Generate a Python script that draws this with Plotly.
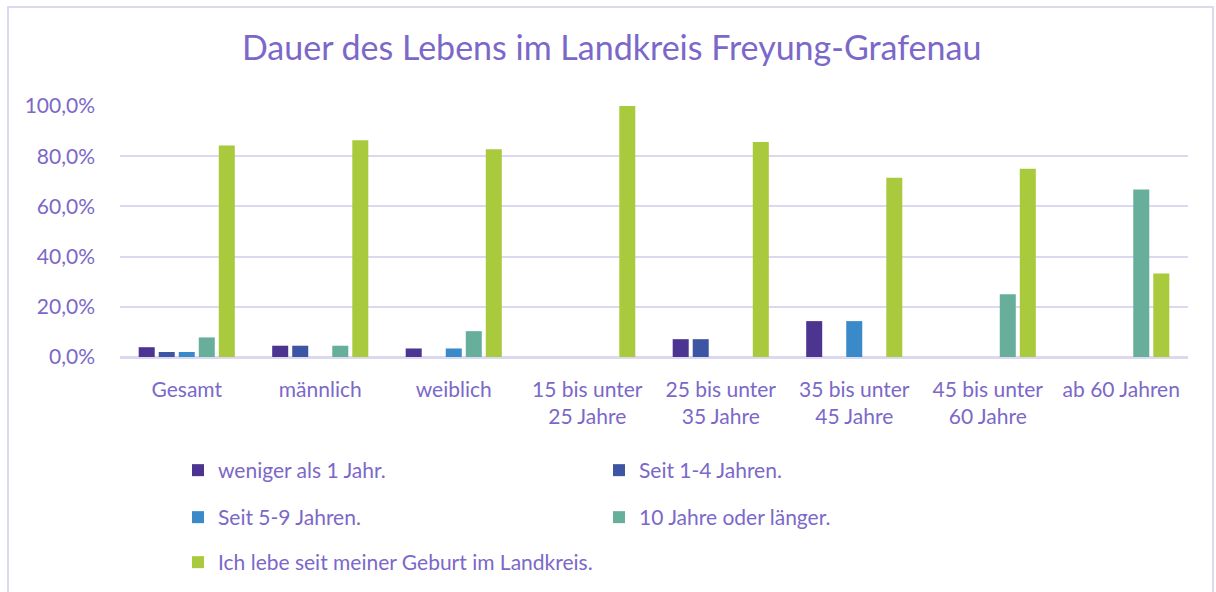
import plotly.graph_objects as go

categories = ["Gesamt", "männlich", "weiblich", "15 bis unter<br>25 Jahre",
              "25 bis unter<br>35 Jahre", "35 bis unter<br>45 Jahre",
              "45 bis unter<br>60 Jahre", "ab 60 Jahren"]

series_names = ["weniger als 1 Jahr.", "Seit 1-4 Jahren.", "Seit 5-9 Jahren.",
                "10 Jahre oder länger.", "Ich lebe seit meiner Geburt im Landkreis."]

weniger_1 = [0.039, 0.045, 0.034, 0.0, 0.071, 0.143, 0.0, 0.0]
seit_1_4 = [0.020, 0.045, 0.0, 0.0, 0.071, 0.0, 0.0, 0.0]
seit_5_9 = [0.020, 0.0, 0.034, 0.0, 0.0, 0.143, 0.0, 0.0]
zehn_plus = [0.078, 0.045, 0.103, 0.0, 0.0, 0.0, 0.25, 0.667]
geburt = [0.843, 0.864, 0.828, 1.0, 0.857, 0.714, 0.75, 0.333]

colors = ["#4B3590", "#3D56A3", "#3A8AC9", "#67AF9A", "#AACA3E"]
values = [weniger_1, seit_1_4, seit_5_9, zehn_plus, geburt]
legend_ids = ["legend", "legend", "legend2", "legend2", "legend3"]

TXT = "#7B68C8"
GRID = "#DCD8F0"
FONT = "Lato"
FS = 21

W, H = 1216, 592
L, R, T, B = 120, 28, 106, 235
pw, ph = W - L - R, H - T - B

fig = go.Figure()
for name, vals, col, lg in zip(series_names, values, colors, legend_ids):
    fig.add_trace(go.Bar(x=categories, y=vals, name=name, marker_color=col,
                         marker_line_width=0, legend=lg))

def px_x(x):
    return (x - L) / pw

def px_y(y):
    return (H - B - y) / ph

legend_common = dict(orientation="h", xanchor="left", yanchor="top",
                     font=dict(family=FONT, size=FS, color=TXT),
                     entrywidth=376, entrywidthmode="pixels",
                     bgcolor="rgba(0,0,0,0)", borderwidth=0, itemclick=False)

fig.update_layout(
    width=W, height=H,
    margin=dict(l=L, r=R, t=T, b=B, autoexpand=False),
    paper_bgcolor="white", plot_bgcolor="white",
    separators=", ",
    barmode="group", bargap=0.25, bargroupgap=0.2,
    title=dict(text="Dauer des Lebens im Landkreis Freyung-Grafenau",
               x=0.503, xref="container", xanchor="center", y=1 - 48 / H, yanchor="middle",
               font=dict(family=FONT, size=34, color=TXT)),
    font=dict(family=FONT, color=TXT),
    legend=dict(x=px_x(178), y=px_y(450), **legend_common),
    legend2=dict(x=px_x(178), y=px_y(497), **legend_common),
    legend3=dict(x=px_x(178), y=px_y(542), **legend_common),
    xaxis=dict(showgrid=False, showline=False, ticks="",
               tickfont=dict(family=FONT, size=FS, color=TXT),
               ticklabelstandoff=18),
    yaxis=dict(range=[0, 1.0], dtick=0.2, tickformat=".1%",
               showgrid=True, gridcolor=GRID, gridwidth=1.5,
               zeroline=True, zerolinecolor=GRID, zerolinewidth=2.5,
               showline=False, ticks="",
               tickfont=dict(family=FONT, size=FS, color=TXT),
               ticklabelstandoff=24),
    shapes=[dict(type="rect", xref="paper", yref="paper",
                 x0=px_x(8), x1=px_x(1213), y0=px_y(610), y1=px_y(7),
                 line=dict(color=GRID, width=2), fillcolor="rgba(0,0,0,0)", layer="below")],
)

fig.write_html("out.html", config={"displayModeBar": False},
               post_script="document.body.style.margin='0';document.body.style.overflow='hidden';")
